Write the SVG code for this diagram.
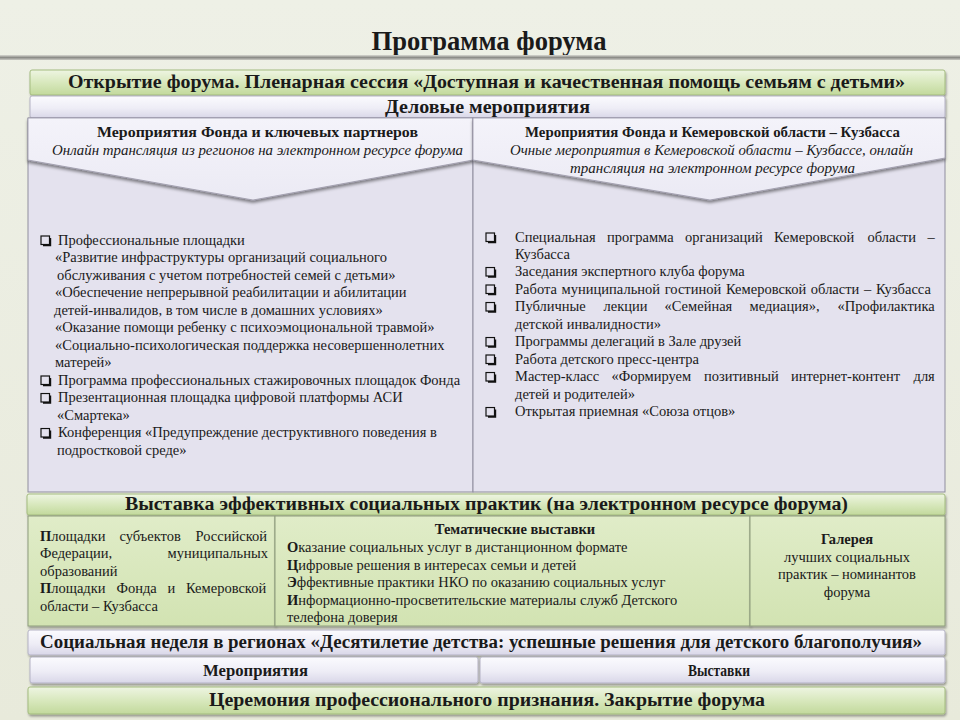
<svg xmlns="http://www.w3.org/2000/svg" width="960" height="720" viewBox="0 0 960 720" font-family="'Liberation Serif', 'DejaVu Serif', serif">
<defs>
<linearGradient id="bg" x1="0" y1="0" x2="0" y2="1"><stop offset="0" stop-color="#eef0e6"/><stop offset="1" stop-color="#e8eadb"/></linearGradient>
<linearGradient id="rule" x1="0" y1="0" x2="0" y2="1"><stop offset="0" stop-color="#d8d8d2"/><stop offset="0.5" stop-color="#8c8c88"/><stop offset="1" stop-color="#c8c8c2"/></linearGradient>
<linearGradient id="green" x1="0" y1="0" x2="0" y2="1"><stop offset="0" stop-color="#eef5e2"/><stop offset="0.5" stop-color="#d8e8bd"/><stop offset="1" stop-color="#c2d99c"/></linearGradient>
<linearGradient id="greenbox" x1="0" y1="0" x2="0" y2="1"><stop offset="0" stop-color="#e0ecc8"/><stop offset="1" stop-color="#d2e3b2"/></linearGradient>
<linearGradient id="lav" x1="0" y1="0" x2="0" y2="1"><stop offset="0" stop-color="#fbfbfe"/><stop offset="0.55" stop-color="#eeedf6"/><stop offset="1" stop-color="#d9d7e8"/></linearGradient>
<linearGradient id="chev" x1="0" y1="0" x2="0" y2="1"><stop offset="0" stop-color="#f4f3fa"/><stop offset="1" stop-color="#ebeaf4"/></linearGradient>
<filter id="sh" x="-5%" y="-20%" width="110%" height="160%"><feDropShadow dx="1" dy="2" stdDeviation="1.3" flood-color="#000" flood-opacity="0.35"/></filter>
<filter id="shc" x="-5%" y="-20%" width="110%" height="160%"><feDropShadow dx="0" dy="2.5" stdDeviation="1.8" flood-color="#000" flood-opacity="0.45"/></filter>
<symbol id="cb" viewBox="0 0 12 12" width="12" height="12">
<rect x="1" y="1" width="8.5" height="8.5" fill="none" stroke="#111" stroke-width="1.2"/>
<path d="M3 10.3 H10.3 V3" fill="none" stroke="#111" stroke-width="1.8"/>
</symbol>
<style>
text{font-family:'Liberation Serif','DejaVu Serif',serif}
.hb{font-weight:bold;fill:#1a1a1a}
.t{font-size:14.5px;fill:#1a1a1a}
.tb{font-size:14.5px;font-weight:bold;fill:#1a1a1a}
.ti{font-size:14.5px;font-style:italic;fill:#1a1a1a}
.gbar{fill:url(#green);stroke:#a3bb7e;stroke-width:1;filter:url(#sh)}
.lbar{fill:url(#lav);stroke:#b4b2c4;stroke-width:1;filter:url(#sh)}
.gbox{fill:url(#greenbox);stroke:#8e9c7c;stroke-width:1;filter:url(#sh)}
.col{fill:#e4e2ee;stroke:#8f8d9e;stroke-width:1}
.chev{fill:url(#chev);stroke:#9a98a8;stroke-width:0.8;filter:url(#shc)}
</style>
</defs>
<rect width="960" height="720" fill="url(#bg)"/>
<g id="title">
<text class="hb" x="489" y="50" font-size="28" text-anchor="middle" textLength="235" lengthAdjust="spacingAndGlyphs">Программа форума</text>
<rect x="0" y="55" width="960" height="5" fill="url(#rule)"/>
</g>
<g id="opening">
<rect class="gbar" x="30" y="70" width="915" height="25" rx="2"/>
<text class="hb" x="68" y="88" font-size="18" textLength="837" lengthAdjust="spacingAndGlyphs">Открытие форума. Пленарная сессия «Доступная и качественная помощь семьям с детьми»</text>
</g>
<g id="business">
<rect class="lbar" x="30" y="96" width="915" height="22" rx="2"/>
<text class="hb" x="385" y="113" font-size="18" textLength="205" lengthAdjust="spacingAndGlyphs">Деловые мероприятия</text>
</g>
<g id="left-column">
<rect class="col" x="28" y="118" width="445" height="374"/>
<polygon class="chev" points="28,118 473,118 473,160 253,200 28,160"/>
<text class="tb" x="97" y="137" textLength="321" lengthAdjust="spacingAndGlyphs">Мероприятия Фонда и ключевых партнеров</text>
<text class="ti" x="52" y="155" textLength="411" lengthAdjust="spacingAndGlyphs">Онлайн трансляция из регионов на электронном ресурсе форума</text>
<use href="#cb" x="40" y="235"/>
<text class="t" x="58" y="244.5">Профессиональные площадки</text>
<text class="t" x="55" y="262">«Развитие инфраструктуры  организаций  социального</text>
<text class="t" x="57" y="279.5">обслуживания  с учетом потребностей семей с детьми»</text>
<text class="t" x="55" y="297">«Обеспечение непрерывной  реабилитации  и абилитации</text>
<text class="t" x="54" y="314.5">детей-инвалидов, в том числе  в домашних  условиях»</text>
<text class="t" x="55" y="332">«Оказание помощи  ребенку с психоэмоциональной   травмой»</text>
<text class="t" x="55" y="349.5">«Социально-психологическая  поддержка несовершеннолетних</text>
<text class="t" x="55" y="367">матерей»</text>
<use href="#cb" x="40" y="375"/>
<text class="t" x="58" y="384.5">Программа профессиональных  стажировочных площадок  Фонда</text>
<use href="#cb" x="40" y="392.5"/>
<text class="t" x="58" y="402">Презентационная площадка цифровой  платформы АСИ</text>
<text class="t" x="57" y="419.5">«Смартека»</text>
<use href="#cb" x="40" y="427.5"/>
<text class="t" x="58" y="437">Конференция  «Предупреждение деструктивного поведения в</text>
<text class="t" x="57" y="454.5">подростковой среде»</text>
</g>
<g id="right-column">
<rect class="col" x="473" y="118" width="472" height="374"/>
<polygon class="chev" points="473,118 945,118 945,158 710,200 473,160"/>
<text class="tb" x="525" y="137" textLength="375" lengthAdjust="spacingAndGlyphs">Мероприятия Фонда и Кемеровской области – Кузбасса</text>
<text class="ti" x="510" y="155" textLength="403" lengthAdjust="spacingAndGlyphs">Очные мероприятия в Кемеровской области – Кузбассе, онлайн</text>
<text class="ti" x="570" y="173" textLength="285" lengthAdjust="spacingAndGlyphs">трансляция на электронном ресурсе форума</text>
<use href="#cb" x="485" y="232"/>
<text class="t" y="241.5"><tspan x="515">Специальная</tspan> <tspan x="607">программа</tspan> <tspan x="685">организаций</tspan> <tspan x="774">Кемеровской</tspan> <tspan x="867.5">области</tspan> <tspan x="927.5">–</tspan></text>
<text class="t" x="515" y="259">Кузбасса</text>
<use href="#cb" x="485" y="266.5"/>
<text class="t" x="515" y="276">Заседания экспертного клуба форума</text>
<use href="#cb" x="485" y="284"/>
<text class="t" x="515" y="293.5" style="word-spacing:1.1px">Работа муниципальной  гостиной  Кемеровской области – Кузбасса</text>
<use href="#cb" x="485" y="301.5"/>
<text class="t" y="311"><tspan x="515">Публичные</tspan> <tspan x="603.5">лекции</tspan> <tspan x="664.5">«Семейная</tspan> <tspan x="749.5">медиация»,</tspan> <tspan x="837.5">«Профилактика</tspan></text>
<text class="t" x="515" y="328.5">детской инвалидности»</text>
<use href="#cb" x="485" y="336.5"/>
<text class="t" x="515" y="346">Программы делегаций в Зале друзей</text>
<use href="#cb" x="485" y="354"/>
<text class="t" x="515" y="363.5">Работа детского пресс-центра</text>
<use href="#cb" x="485" y="371.5"/>
<text class="t" y="381"><tspan x="515">Мастер-класс</tspan> <tspan x="611.5">«Формируем</tspan> <tspan x="704">позитивный</tspan> <tspan x="791">интернет-контент</tspan> <tspan x="913.5">для</tspan></text>
<text class="t" x="515" y="398.5">детей и родителей»</text>
<use href="#cb" x="485" y="406.5"/>
<text class="t" x="515" y="416">Открытая приемная «Союза отцов»</text>
</g>
<g id="exhibition">
<rect class="gbar" x="27" y="494" width="918" height="21" rx="2"/>
<text class="hb" x="125" y="510" font-size="18" textLength="723" lengthAdjust="spacingAndGlyphs">Выставка эффективных социальных практик (на электронном ресурсе форума)</text>
</g>
<g id="regions-box">
<rect class="gbox" x="28" y="516" width="247" height="110"/>
<text class="t" y="540.5"><tspan x="40" font-weight="bold">П</tspan><tspan>лощадки</tspan> <tspan x="119.5">субъектов</tspan> <tspan x="195.5">Российской</tspan></text>
<text class="t" y="558"><tspan x="40">Федерации,</tspan> <tspan x="167.5">муниципальных</tspan></text>
<text class="t" x="40" y="575.5">образований</text>
<text class="t" y="593"><tspan x="40" font-weight="bold">П</tspan><tspan>лощадки</tspan> <tspan x="116.5">Фонда</tspan> <tspan x="167.5">и</tspan> <tspan x="186">Кемеровской</tspan></text>
<text class="t" x="40" y="610.5">области – Кузбасса</text>
</g>
<g id="thematic-box">
<rect class="gbox" x="275" y="516" width="475" height="110"/>
<text class="tb" x="515" y="534" text-anchor="middle">Тематические выставки</text>
<text class="t" x="287" y="552"><tspan font-weight="bold">О</tspan>казание социальных  услуг в дистанционном  формате</text>
<text class="t" x="287" y="569.5"><tspan font-weight="bold">Ц</tspan>ифровые решения в интересах семьи и детей</text>
<text class="t" x="287" y="587"><tspan font-weight="bold">Э</tspan>ффективные практики  НКО по оказанию социальных  услуг</text>
<text class="t" x="287" y="604.5"><tspan font-weight="bold">И</tspan>нформационно-просветительские  материалы служб Детского</text>
<text class="t" x="287" y="622">телефона доверия</text>
</g>
<g id="gallery-box">
<rect class="gbox" x="750" y="516" width="195" height="110"/>
<text class="tb" x="847" y="544" text-anchor="middle">Галерея</text>
<text class="t" x="847" y="561.5" text-anchor="middle">лучших социальных</text>
<text class="t" x="847" y="579" text-anchor="middle">практик – номинантов</text>
<text class="t" x="847" y="596.5" text-anchor="middle">форума</text>
</g>
<g id="social-week">
<rect class="lbar" x="28" y="630" width="917" height="25" rx="2"/>
<text class="hb" x="40" y="648" font-size="18" textLength="882" lengthAdjust="spacingAndGlyphs">Социальная неделя в регионах «Десятилетие детства: успешные решения для детского благополучия»</text>
</g>
<g id="events">
<rect class="lbar" x="30" y="657" width="448" height="26" rx="2"/>
<text class="hb" x="203" y="676" font-size="16" textLength="105" lengthAdjust="spacingAndGlyphs">Мероприятия</text>
</g>
<g id="exhibits">
<rect class="lbar" x="480" y="657" width="465" height="26" rx="2"/>
<text class="hb" x="688" y="676" font-size="16" textLength="62" lengthAdjust="spacingAndGlyphs">Выставки</text>
</g>
<g id="closing">
<rect class="gbar" x="28" y="687" width="917" height="27" rx="2"/>
<text class="hb" x="209" y="706" font-size="18" textLength="556" lengthAdjust="spacingAndGlyphs">Церемония профессионального признания. Закрытие форума</text>
</g>
</svg>
